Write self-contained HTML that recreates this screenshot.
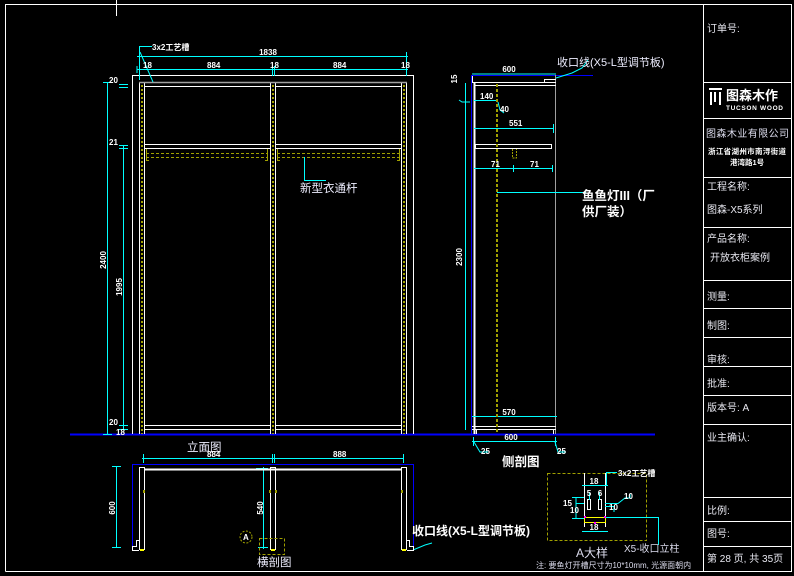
<!DOCTYPE html>
<html><head><meta charset="utf-8">
<style>
html,body{margin:0;padding:0;background:#000;}
svg{display:block;}
text{font-family:"Liberation Sans","Noto Sans CJK SC",sans-serif;}
.d{fill:#fff;font-size:8px;font-weight:bold;}
.t{fill:#e8e8f0;font-size:10px;}
.b{fill:#fff;font-weight:bold;}
</style></head>
<body>
<svg width="794" height="576" viewBox="0 0 794 576" xmlns="http://www.w3.org/2000/svg">
<rect width="794" height="576" fill="#000"/>
<!-- outer frame -->
<g stroke="#fff" stroke-width="1" fill="none">
<path d="M5.5 571.5V4.5H791.5V571.5H5.5"/>
<line x1="116.5" y1="0" x2="116.5" y2="16"/>
<line x1="703.5" y1="4" x2="703.5" y2="571"/>
<line x1="703" y1="82.5" x2="791" y2="82.5"/>
<line x1="703" y1="118.5" x2="791" y2="118.5"/>
<line x1="703" y1="177.5" x2="791" y2="177.5"/>
<line x1="703" y1="227.5" x2="791" y2="227.5"/>
<line x1="703" y1="280.5" x2="791" y2="280.5"/>
<line x1="703" y1="308.5" x2="791" y2="308.5"/>
<line x1="703" y1="337.5" x2="791" y2="337.5"/>
<line x1="703" y1="366.5" x2="791" y2="366.5"/>
<line x1="703" y1="395.5" x2="791" y2="395.5"/>
<line x1="703" y1="424.5" x2="791" y2="424.5"/>
<line x1="703" y1="497.5" x2="791" y2="497.5"/>
<line x1="703" y1="521.5" x2="791" y2="521.5"/>
<line x1="703" y1="546.5" x2="791" y2="546.5"/>
</g>
<!-- title block text -->
<text class="t" x="707" y="32">订单号:</text>
<g fill="#fff">
<rect x="709" y="88" width="13" height="2"/>
<rect x="710" y="92" width="2" height="13"/>
<rect x="719" y="92" width="2" height="13"/>
<rect x="714" y="92" width="2" height="10"/>
</g>
<text class="b" x="726" y="100" font-size="13">图森木作</text>
<text class="b" x="726" y="110" font-size="6.5" textLength="57">TUCSON WOOD</text>
<text x="706" y="137" font-size="10" fill="#dde" textLength="83">图森木业有限公司</text>
<text class="b" x="708" y="154" font-size="7.5" textLength="78">浙江省湖州市南浔街道</text>
<text class="b" x="730" y="165" font-size="7.5">港湾路1号</text>
<text class="t" x="707" y="190">工程名称:</text>
<text class="t" x="707" y="213">图森-X5系列</text>
<text class="t" x="707" y="242">产品名称:</text>
<text class="t" x="710" y="261">开放衣柜案例</text>
<text class="t" x="707" y="300">测量:</text>
<text class="t" x="707" y="329">制图:</text>
<text class="t" x="707" y="363">审核:</text>
<text class="t" x="707" y="387">批准:</text>
<text class="t" x="707" y="411">版本号:   A</text>
<text class="t" x="707" y="441">业主确认:</text>
<text class="t" x="707" y="514">比例:</text>
<text class="t" x="707" y="537">图号:</text>
<text class="t" x="707" y="562">第 28 页, 共 35页</text>

<!-- ground line -->
<line x1="70" y1="434.5" x2="655" y2="434.5" stroke="#0000ff" stroke-width="2"/>

<!-- FRONT ELEVATION -->
<g stroke="#fff" stroke-width="1" fill="none">
<path d="M132.5 434V75.5H413.5V434"/>
<line x1="139.5" y1="83" x2="139.5" y2="434"/>
<line x1="144.5" y1="83" x2="144.5" y2="434"/>
<line x1="270.5" y1="83" x2="270.5" y2="434"/>
<line x1="275.5" y1="83" x2="275.5" y2="434"/>
<line x1="401.5" y1="83" x2="401.5" y2="434"/>
<line x1="406.5" y1="83" x2="406.5" y2="434"/>
<line x1="144" y1="86.5" x2="271" y2="86.5"/>
<line x1="275" y1="86.5" x2="402" y2="86.5"/>
<line x1="144" y1="144.5" x2="271" y2="144.5"/>
<line x1="275" y1="144.5" x2="402" y2="144.5"/>
<line x1="144" y1="148.5" x2="271" y2="148.5"/>
<line x1="275" y1="148.5" x2="402" y2="148.5"/>
<line x1="144" y1="425.5" x2="271" y2="425.5"/>
<line x1="275" y1="425.5" x2="402" y2="425.5"/>
<line x1="144" y1="429.5" x2="271" y2="429.5"/>
<line x1="275" y1="429.5" x2="402" y2="429.5"/>
</g>
<line x1="139" y1="82.5" x2="407" y2="82.5" stroke="#a0a0a0" stroke-width="1.5"/>
<g stroke="#a0a000" stroke-width="2" stroke-dasharray="2,2">
<line x1="142" y1="85" x2="142" y2="434"/>
<line x1="273" y1="85" x2="273" y2="434"/>
<line x1="404" y1="85" x2="404" y2="434"/>
</g>
<g stroke="#a0a000" stroke-width="1" stroke-dasharray="3,2" fill="none">
<line x1="146" y1="153.5" x2="268" y2="153.5"/>
<line x1="146" y1="157.5" x2="268" y2="157.5"/>
<line x1="277" y1="153.5" x2="400" y2="153.5"/>
<line x1="277" y1="157.5" x2="400" y2="157.5"/>
</g>
<g stroke="#a0a000" stroke-width="1">
<path d="M146.5 149V160.5H149M267.5 149V160.5H265M277.5 149V160.5H280M399.5 149V160.5H397" fill="none"/>
</g>
<!-- front dims -->
<g stroke="#00ffff" stroke-width="1" fill="none">
<line x1="137" y1="56.5" x2="408" y2="56.5"/>
<line x1="137" y1="69.5" x2="408" y2="69.5"/>
<line x1="139.5" y1="46" x2="139.5" y2="80"/>
<line x1="139" y1="46.5" x2="152" y2="46.5"/>
<line x1="140" y1="52" x2="153" y2="82"/>
<line x1="406.5" y1="52" x2="406.5" y2="76"/>
<line x1="272.5" y1="66" x2="272.5" y2="76"/>
<line x1="274.5" y1="66" x2="274.5" y2="76"/>
<line x1="137" y1="66" x2="137" y2="73"/>
<line x1="107.5" y1="82" x2="107.5" y2="434"/>
<line x1="123.5" y1="145" x2="123.5" y2="430"/>
<line x1="103" y1="82.5" x2="112" y2="82.5"/>
<line x1="119" y1="84.5" x2="128" y2="84.5"/>
<line x1="119" y1="87.5" x2="128" y2="87.5"/>
<line x1="119" y1="145.5" x2="128" y2="145.5"/>
<line x1="119" y1="148.5" x2="128" y2="148.5"/>
<line x1="119" y1="425.5" x2="128" y2="425.5"/>
<line x1="119" y1="429.5" x2="128" y2="429.5"/>
<line x1="103" y1="434.5" x2="112" y2="434.5"/>
<line x1="304.5" y1="157" x2="304.5" y2="181"/>
<line x1="304" y1="180.5" x2="326" y2="180.5"/>
</g>
<text class="d" x="152" y="50" font-size="8.5">3x2工艺槽</text>
<text class="d" x="268" y="55" text-anchor="middle">1838</text>
<text class="d" x="143" y="68">18</text>
<text class="d" x="207" y="68">884</text>
<text class="d" x="270" y="68">18</text>
<text class="d" x="333" y="68">884</text>
<text class="d" x="401" y="68">18</text>
<text class="d" x="109" y="83">20</text>
<text class="d" x="109" y="145">21</text>
<text class="d" x="109" y="425">20</text>
<text class="d" x="116" y="435">18</text>
<text class="d" transform="translate(106,260) rotate(-90)" text-anchor="middle">2400</text>
<text class="d" transform="translate(122,287) rotate(-90)" text-anchor="middle">1995</text>
<text x="300" y="192" font-size="11.5" fill="#eef">新型衣通杆</text>
<text x="187" y="451" font-size="11.5" fill="#eef">立面图</text>

<!-- SIDE SECTION -->
<g fill="none" stroke-width="1">
<line x1="465.5" y1="83" x2="465.5" y2="430" stroke="#00ffff"/>
<line x1="471.5" y1="75" x2="471.5" y2="434" stroke="#0000ff"/>
<line x1="472" y1="75.5" x2="593" y2="75.5" stroke="#0000ff"/>
<line x1="474.5" y1="83" x2="474.5" y2="434" stroke="#fff" stroke-width="2"/>
<line x1="555.5" y1="75" x2="555.5" y2="434" stroke="#a0a0a0"/>
<g stroke="#fff">
<line x1="472" y1="82.5" x2="556" y2="82.5"/>
<line x1="474" y1="85.5" x2="556" y2="85.5"/>
<path d="M472.5 76V83M544.5 83V79.5H556"/>
<rect x="475.5" y="144.5" width="76" height="4"/>
<line x1="472" y1="426.5" x2="556" y2="426.5"/>
<line x1="472" y1="429.5" x2="556" y2="429.5"/>
<line x1="476.5" y1="429" x2="476.5" y2="434"/>
<line x1="553.5" y1="429" x2="553.5" y2="434"/>
</g>
<g stroke="#00ffff">
<line x1="472" y1="74" x2="556" y2="74"/>
<line x1="474" y1="100.5" x2="498" y2="100.5"/>
<line x1="474" y1="128.5" x2="554" y2="128.5"/>
<line x1="474" y1="168.5" x2="553" y2="168.5"/>
<line x1="497" y1="192.5" x2="586" y2="192.5"/>
<line x1="472" y1="416.5" x2="557" y2="416.5"/>
<line x1="472" y1="441.5" x2="557" y2="441.5"/>
<line x1="513.5" y1="165" x2="513.5" y2="172"/>
<line x1="553.5" y1="124" x2="553.5" y2="133"/>
<line x1="552.5" y1="165" x2="552.5" y2="172"/>
<line x1="473.5" y1="437" x2="473.5" y2="446"/>
<line x1="555.5" y1="437" x2="555.5" y2="446"/>
<path d="M498 102L500 110L504 113"/>
<path d="M556 78L572 73L582 68L588 60"/>
<path d="M474 442L480 452H488"/>
<path d="M555 442L558 452H566"/>
<path d="M459 100L462 102H470"/>
</g>
</g>
<line x1="497" y1="84" x2="497" y2="434" stroke="#a0a000" stroke-width="2" stroke-dasharray="3,2"/>
<path d="M512.5 149V158H516.5V149" stroke="#a0a000" fill="none" stroke-dasharray="2,1"/>
<text x="557" y="66" font-size="11" fill="#eef">收口线(X5-L型调节板)</text>
<text class="d" x="509" y="72" text-anchor="middle">600</text>
<text class="d" transform="translate(457,79) rotate(-90)" text-anchor="middle">15</text>
<text class="d" x="480" y="99">140</text>
<text class="d" x="500" y="112">40</text>
<text class="d" x="509" y="126">551</text>
<text class="d" x="491" y="167">71</text>
<text class="d" x="530" y="167">71</text>
<text class="d" transform="translate(462,257) rotate(-90)" text-anchor="middle">2300</text>
<text class="b" x="582" y="200" font-size="12.5">鱼鱼灯III（厂</text>
<text class="b" x="582" y="216" font-size="12.5">供厂装）</text>
<text class="d" x="509" y="415" text-anchor="middle">570</text>
<text class="d" x="511" y="440" text-anchor="middle">600</text>
<text class="d" x="481" y="454">25</text>
<text class="d" x="557" y="454">25</text>
<text class="b" x="502" y="466" font-size="12.5">侧剖图</text>

<!-- PLAN SECTION -->
<g fill="none" stroke-width="1">
<path d="M132.5 548V464.5H413.5V548" stroke="#0000ff"/>
<g stroke="#00ffff">
<line x1="142" y1="458.5" x2="404" y2="458.5"/>
<line x1="143.5" y1="454" x2="143.5" y2="463"/>
<line x1="272.5" y1="454" x2="272.5" y2="463"/>
<line x1="274.5" y1="454" x2="274.5" y2="463"/>
<line x1="403.5" y1="454" x2="403.5" y2="463"/>
<line x1="116.5" y1="466" x2="116.5" y2="548"/>
<line x1="112" y1="466.5" x2="121" y2="466.5"/>
<line x1="112" y1="547.5" x2="121" y2="547.5"/>
<line x1="263.5" y1="467" x2="263.5" y2="549"/>
<line x1="256" y1="468.5" x2="268" y2="468.5"/>
<line x1="258" y1="547.5" x2="268" y2="547.5"/>
<path d="M413 550L425 545L432 543"/>
</g>
<g stroke="#fff">
<rect x="139.5" y="467.5" width="5" height="82"/>
<rect x="270.5" y="467.5" width="5" height="82"/>
<rect x="401.5" y="467.5" width="5" height="82"/>
<path d="M139 540.5H136.5V546.5H132.5V550.5H139"/>
<path d="M407 540.5H409.5V546.5H413.5V550.5H407"/>
</g>
<line x1="144" y1="469.5" x2="402" y2="469.5" stroke="#fff" stroke-width="2"/>
<circle cx="246" cy="537" r="6" stroke="#a0a000" stroke-dasharray="2,1.5"/>
<rect x="259.5" y="538.5" width="25" height="16" stroke="#a0a000" stroke-dasharray="3,2"/>
</g>
<g fill="#ffff00">
<rect x="140" y="549" width="4" height="2"/>
<rect x="271" y="549" width="4" height="2"/>
<rect x="402" y="549" width="4" height="2"/>
</g>
<g fill="#a0a000">
<rect x="143" y="490" width="2" height="3"/>
<rect x="269" y="490" width="2" height="3"/>
<rect x="275" y="490" width="2" height="3"/>
<rect x="401" y="490" width="2" height="3"/>
</g>
<text class="d" x="207" y="457">884</text>
<text class="d" x="333" y="457">888</text>
<text class="d" transform="translate(115,508) rotate(-90)" text-anchor="middle">600</text>
<text class="d" transform="translate(263,508) rotate(-90)" text-anchor="middle">540</text>
<text class="d" x="243" y="540" font-size="7">A</text>
<text x="257" y="566" font-size="11.5" fill="#eef">横剖图</text>
<text class="b" x="412" y="535" font-size="12">收口线(X5-L型调节板)</text>

<!-- DETAIL A -->
<g fill="none" stroke-width="1">
<rect x="547.5" y="473.5" width="99" height="67" stroke="#a0a000" stroke-dasharray="3,2"/>
<g stroke="#fff">
<line x1="584.5" y1="473" x2="584.5" y2="527"/>
<line x1="605.5" y1="473" x2="605.5" y2="527"/>
<rect x="587.5" y="499.5" width="3" height="10"/>
<rect x="598.5" y="499.5" width="3" height="10"/>
</g>
<rect x="584.5" y="517.5" width="21" height="5" stroke="#ffff00"/>
<g stroke="#00ffff">
<line x1="582" y1="485.5" x2="608" y2="485.5"/>
<line x1="582" y1="531.5" x2="608" y2="531.5"/>
<line x1="606.5" y1="472" x2="606.5" y2="486"/>
<line x1="606" y1="472.5" x2="617" y2="472.5"/>
<path d="M606 517.5H658.5V545"/>
<path d="M584 503.5H576M576 497V518M572 497.5H584M572 518.5H584"/>
<path d="M605 503.5H618L625 498H630V494"/>
<path d="M605 506.5H614V512"/>
<line x1="589.5" y1="492" x2="589.5" y2="500"/>
<line x1="599.5" y1="492" x2="599.5" y2="500"/>
</g>
</g>
<g fill="#ff00ff">
<rect x="584" y="516" width="2" height="2"/>
<rect x="604" y="516" width="2" height="2"/>
<rect x="594" y="522" width="2" height="2"/>
</g>
<text class="d" x="594" y="484" text-anchor="middle" font-size="7">18</text>
<text class="d" x="589" y="496" text-anchor="middle" font-size="6">5</text>
<text class="d" x="600" y="496" text-anchor="middle" font-size="6">6</text>
<text class="d" x="563" y="506" font-size="7">15</text>
<text class="d" x="570" y="513" font-size="7">10</text>
<text class="d" x="609" y="510" font-size="6">10</text>
<text class="d" x="624" y="499" font-size="6">10</text>
<text class="d" x="594" y="530" text-anchor="middle" font-size="7">18</text>
<text class="d" x="618" y="476" font-size="8">3x2工艺槽</text>
<text x="624" y="552" font-size="10" fill="#dde">X5-收口立柱</text>
<text x="576" y="557" font-size="12" fill="#dde">A大样</text>
<text x="536" y="568" font-size="8" fill="#dde">注:  要鱼灯开槽尺寸为10*10mm, 光源面朝内</text>
</svg>
</body></html>
